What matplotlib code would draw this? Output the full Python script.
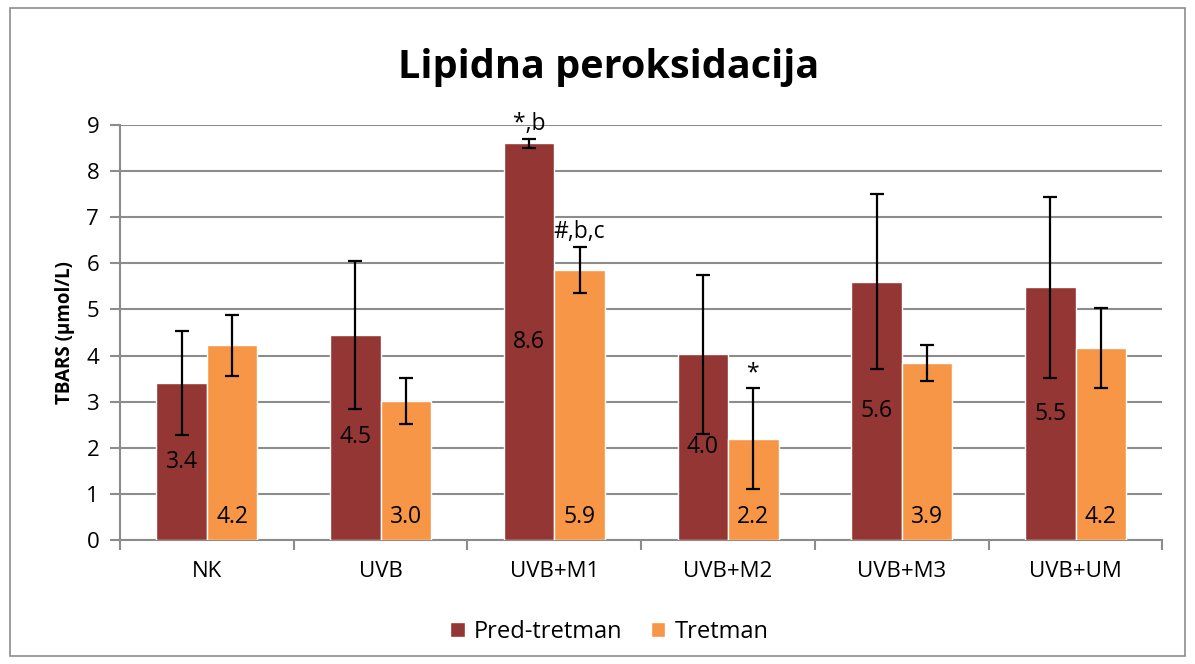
import matplotlib

matplotlib.use("Agg")
import matplotlib.pyplot as plt
import numpy as np
from matplotlib.patches import Rectangle

categories = ["NK", "UVB", "UVB+M1", "UVB+M2", "UVB+M3", "UVB+UM"]
pred_vals = [3.4, 4.45, 8.6, 4.03, 5.6, 5.48]
pred_err = [1.13, 1.6, 0.1, 1.72, 1.9, 1.97]
tret_vals = [4.22, 3.02, 5.86, 2.2, 3.84, 4.16]
tret_err = [0.66, 0.5, 0.5, 1.1, 0.4, 0.87]
pred_labels = ["3.4", "4.5", "8.6", "4.0", "5.6", "5.5"]
tret_labels = ["4.2", "3.0", "5.9", "2.2", "3.9", "4.2"]
# significance marks: (category index, series, text)
marks = [(2, "pred", "*,b"), (2, "tret", "#,b,c"), (3, "tret", "*")]

plt.rcParams["font.family"] = ["Open Sans", "DejaVu Sans"]

PRED_C = "#943634"
TRET_C = "#F79646"
GRID_C = "#8c8c8c"

fig = plt.figure(figsize=(11.95, 6.64), dpi=100)
ax = fig.add_axes([0.1004, 0.1867, 0.8724, 0.625])

x = np.arange(len(categories))
w = 0.29
eb = dict(ecolor="black", elinewidth=1.6, capsize=5, capthick=1.6)
ax.bar(x - w / 2, pred_vals, w, color=PRED_C, edgecolor="white", linewidth=1,
       yerr=pred_err, error_kw=eb, label="Pred-tretman", zorder=3)
ax.bar(x + w / 2, tret_vals, w, color=TRET_C, edgecolor="white", linewidth=1,
       yerr=tret_err, error_kw=eb, label="Tretman", zorder=3)

for i in range(len(categories)):
    ax.text(x[i] - w / 2, pred_vals[i] / 2, pred_labels[i], ha="center", va="center",
            fontsize=16.5, zorder=5)
    ax.text(x[i] + w / 2, 0.5, tret_labels[i], ha="center", va="center",
            fontsize=16.5, zorder=5)

for i, s, t in marks:
    if s == "pred":
        xx, top = x[i] - w / 2, pred_vals[i] + pred_err[i]
    else:
        xx, top = x[i] + w / 2, tret_vals[i] + tret_err[i]
    ax.text(xx, top + 0.06, t, ha="center", va="bottom", fontsize=16.5, zorder=5)

ax.set_xlim(-0.5, len(categories) - 0.5)
ax.set_ylim(0, 9)
ax.set_yticks(range(10))
ax.set_xticks(x)
ax.set_xticklabels(categories)
ax.set_xticks(np.arange(-0.5, len(categories)), minor=True)
ax.tick_params(axis="x", which="major", length=0, pad=15, labelsize=16)
ax.tick_params(axis="x", which="minor", length=7, width=1.5, color=GRID_C)
ax.tick_params(axis="y", length=7, width=1.5, color=GRID_C, labelsize=16, pad=8)
ax.yaxis.grid(True, color=GRID_C, linewidth=1.5, zorder=0)
ax.set_axisbelow(True)
for sp in ("top", "right"):
    ax.spines[sp].set_visible(False)
for sp in ("left", "bottom"):
    ax.spines[sp].set_color(GRID_C)
    ax.spines[sp].set_linewidth(1.5)

ax.set_ylabel("TBARS (µmol/L)", fontsize=13.5, fontweight="bold", labelpad=8)
fig.text(0.509, 0.898, "Lipidna peroksidacija", ha="center", va="center",
         fontsize=28.5, fontweight="bold")

fig.legend(loc="center", bbox_to_anchor=(0.51, 0.048), ncol=2, frameon=False,
           fontsize=17, handlelength=0.6, handleheight=0.6, handletextpad=0.4,
           columnspacing=1.2)

fig.patches.append(Rectangle((0.008, 0.012), 0.984, 0.976, transform=fig.transFigure,
                             fill=False, edgecolor=GRID_C, linewidth=1.2))

fig.savefig("out.png", dpi=100)
